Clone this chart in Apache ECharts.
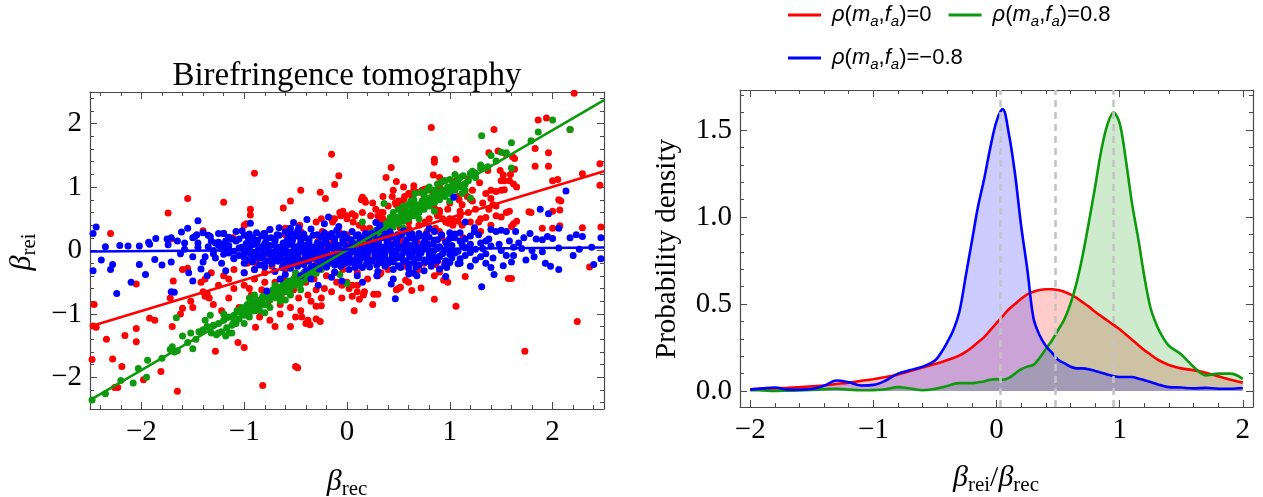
<!DOCTYPE html>
<html><head><meta charset="utf-8">
<script src="https://cdn.jsdelivr.net/npm/echarts@6/dist/echarts.min.js"></script>
<style>html,body{margin:0;padding:0;background:#fff}#c{width:1263px;height:497px}</style>
</head><body><div id="c"></div>
<script>
// ---------------- data ----------------
const titleText = 'Birefringence tomography';
const scatterXMajor = [-2, -1, 0, 1, 2];
const scatterXMinor = [-2.4,-2.2,-1.8,-1.6,-1.4,-1.2,-0.8,-0.6,-0.4,-0.2,0.2,0.4,0.6,0.8,1.2,1.4,1.6,1.8,2.2,2.4];
const scatterYMajor = [-2, -1, 0, 1, 2];
const scatterYMinor = [-2.4,-2.2,-1.8,-1.6,-1.4,-1.2,-0.8,-0.6,-0.4,-0.2,0.2,0.4,0.6,0.8,1.2,1.4,1.6,1.8,2.2,2.4];
const densXMajor = [-2, -1, 0, 1, 2];
const densXMinor = [-1.8,-1.6,-1.4,-1.2,-0.8,-0.6,-0.4,-0.2,0.2,0.4,0.6,0.8,1.2,1.4,1.6,1.8];
const densYMajor = [0, 0.5, 1.0, 1.5];
const densYMinor = [0.1,0.2,0.3,0.4,0.6,0.7,0.8,0.9,1.1,1.2,1.3,1.4,1.6,1.7];

const fitRed   = [[-2.5,-1.2],[2.5,1.25]];
const fitGreen = [[-2.5,-2.36],[2.5,2.37]];
const fitBlue  = [[-2.5,-0.016],[2.5,0.047]];

const blueScatter = [
[-2.47,0.27],[-2.44,0.37],[-2.47,-0.32],[-2.39,-0.15],[-2.35,0.06],[-2.3,-0.3],[-2.28,-0.22],[-2.24,-0.68],[-2.21,0.08],[-2.13,0.07],[-2.1,-0.5],[-2.02,0.07],[-2.02,-0.22],[-1.96,-0.38],[-1.93,0.13],[-1.92,0.1],[-1.87,-0.14],[-1.86,0.19],[-1.8,-0.23],[-1.75,0.18],[-1.74,0.09],[-1.71,0.2],[-1.71,-0.18],[-1.71,-0.65],[-1.68,-0.66],[-1.61,0.29],[-1.58,0.02],[-1.55,0.35],[-1.54,-0.35],[-1.5,0.2],[-1.5,-0.48],[-1.48,0.22],[-1.46,0.25],[-1.45,0.47],[-1.45,0.05],[-1.42,-0.29],[-1.4,0.28],[-1.38,-0.1],[-1.36,-0.4],[-1.35,0.24],[-1.33,0.22],[-1.3,-0.05],[-1.28,0.12],[-1.25,0.27],[-1.25,0.08],[-1.22,-0.2],[-1.2,0.27],[-1.18,-0.32],[-1.15,0.02],[-1.12,0.18],[-1.1,-0.12],[-1.08,0.3],
[-1.02,0.31],[-0.88,0.28],[-0.75,0.33],[-0.6,0.29],[-0.48,0.31],[-0.35,0.34],[-0.22,0.28],[-0.1,0.32],[0.05,0.3],[0.18,0.27],[0.3,0.33],[0.42,0.29],[0.55,0.31],[0.7,0.27],[0.85,0.3],[1.0,0.28],
[-1.15,0.21],[-1.0,0.24],[-0.92,0.2],[-0.83,0.23],[-0.74,0.2],[-0.66,0.24],[-0.57,0.21],[-0.49,0.23],[-0.41,0.2],[-0.33,0.24],[-0.25,0.21],[-0.17,0.22],[-0.08,0.25],[0.0,0.2],[0.09,0.23],[0.17,0.21],[0.26,0.24],[0.35,0.2],[0.44,0.22],[0.53,0.25],[0.62,0.2],[0.71,0.23],[0.8,0.21],[0.92,0.24],[1.05,0.2],[1.2,0.23],
[-1.25,0.13],[-1.08,0.15],[-0.96,0.12],[-0.87,0.16],[-0.79,0.13],[-0.7,0.15],[-0.62,0.12],[-0.53,0.16],[-0.45,0.13],[-0.37,0.15],[-0.29,0.12],[-0.21,0.16],[-0.12,0.13],[-0.04,0.15],[0.05,0.12],[0.13,0.16],[0.22,0.13],[0.3,0.15],[0.39,0.12],[0.48,0.16],[0.57,0.13],[0.66,0.15],[0.75,0.12],[0.85,0.16],[0.96,0.13],[1.1,0.15],[1.3,0.12],
[-1.35,0.06],[-1.15,0.08],[-1.02,0.05],[-0.92,0.09],[-0.83,0.06],[-0.75,0.08],[-0.66,0.05],[-0.58,0.09],[-0.49,0.06],[-0.41,0.08],[-0.33,0.05],[-0.25,0.09],[-0.16,0.06],[-0.08,0.08],[0.01,0.05],[0.09,0.09],[0.18,0.06],[0.26,0.08],[0.35,0.05],[0.44,0.09],[0.52,0.06],[0.61,0.08],[0.7,0.05],[0.79,0.09],[0.9,0.06],[1.02,0.08],[1.18,0.05],[1.4,0.07],
[-1.3,0.0],[-1.1,-0.01],[-0.98,0.01],[-0.88,-0.02],[-0.79,0.01],[-0.7,-0.01],[-0.62,0.02],[-0.53,-0.02],[-0.45,0.01],[-0.37,-0.01],[-0.29,0.02],[-0.2,-0.02],[-0.12,0.01],[-0.03,-0.01],[0.05,0.02],[0.14,-0.02],[0.22,0.01],[0.31,-0.01],[0.39,0.02],[0.48,-0.02],[0.57,0.01],[0.66,-0.01],[0.75,0.02],[0.84,-0.02],[0.95,0.01],[1.08,-0.01],[1.25,0.02],[1.5,0.0],
[-1.2,-0.06],[-1.05,-0.08],[-0.94,-0.05],[-0.84,-0.09],[-0.75,-0.06],[-0.66,-0.08],[-0.58,-0.05],[-0.49,-0.09],[-0.41,-0.06],[-0.33,-0.08],[-0.24,-0.05],[-0.16,-0.09],[-0.08,-0.06],[0.01,-0.08],[0.1,-0.05],[0.18,-0.09],[0.27,-0.06],[0.35,-0.08],[0.44,-0.05],[0.53,-0.09],[0.61,-0.06],[0.7,-0.08],[0.8,-0.05],[0.9,-0.09],[1.0,-0.06],[1.15,-0.08],[1.35,-0.05],
[-1.1,-0.13],[-0.97,-0.15],[-0.87,-0.12],[-0.78,-0.16],[-0.7,-0.13],[-0.61,-0.15],[-0.53,-0.12],[-0.44,-0.16],[-0.36,-0.13],[-0.28,-0.15],[-0.2,-0.12],[-0.11,-0.16],[-0.03,-0.13],[0.06,-0.15],[0.14,-0.12],[0.23,-0.16],[0.31,-0.13],[0.4,-0.15],[0.48,-0.12],[0.57,-0.16],[0.66,-0.13],[0.75,-0.15],[0.85,-0.12],[0.96,-0.16],[1.1,-0.13],[1.25,-0.15],
[-1.0,-0.2],[-0.85,-0.23],[-0.73,-0.21],[-0.62,-0.24],[-0.52,-0.2],[-0.42,-0.22],[-0.32,-0.25],[-0.22,-0.21],[-0.12,-0.23],[-0.02,-0.2],[0.09,-0.24],[0.19,-0.21],[0.29,-0.23],[0.4,-0.2],[0.5,-0.24],[0.6,-0.21],[0.7,-0.23],[0.82,-0.2],[0.95,-0.24],[1.08,-0.21],
[-0.9,-0.3],[-0.7,-0.33],[-0.55,-0.28],[-0.4,-0.32],[-0.27,-0.29],[-0.12,-0.34],[0.02,-0.3],[0.15,-0.27],[0.3,-0.33],[0.45,-0.3],[0.6,-0.28],[0.75,-0.32],[0.9,-0.29],
[-0.95,0.26],[-0.81,0.27],[-0.68,0.25],[-0.54,0.27],[-0.42,0.26],[-0.29,0.25],[-0.15,0.27],[-0.03,0.26],[0.11,0.25],[0.24,0.27],[0.37,0.26],[0.49,0.25],[0.63,0.27],[0.77,0.26],[0.92,0.25],
[-1.05,0.18],[-0.9,0.17],[-0.78,0.19],[-0.7,0.18],[-0.58,0.17],[-0.45,0.19],[-0.37,0.18],[-0.21,0.17],[-0.12,0.19],[-0.04,0.18],[0.04,0.17],[0.13,0.19],[0.21,0.18],[0.31,0.17],[0.4,0.19],[0.49,0.18],[0.58,0.17],[0.67,0.19],[0.76,0.18],[0.88,0.17],[1.0,0.19],[1.15,0.18],
[-1.2,0.1],[-0.98,0.11],[-0.88,0.1],[-0.8,0.11],[-0.71,0.09],[-0.62,0.11],[-0.54,0.1],[-0.45,0.09],[-0.37,0.11],[-0.29,0.1],[-0.2,0.11],[-0.12,0.09],[-0.03,0.11],[0.05,0.1],[0.14,0.09],[0.22,0.11],[0.31,0.1],[0.4,0.09],[0.48,0.11],[0.57,0.1],[0.66,0.09],[0.74,0.11],[0.84,0.1],[0.97,0.11],[1.12,0.09],
[-1.22,0.03],[-1.05,0.04],[-0.95,0.03],[-0.86,0.02],[-0.77,0.04],[-0.68,0.03],[-0.6,0.02],[-0.51,0.04],[-0.43,0.03],[-0.35,0.02],[-0.26,0.04],[-0.18,0.03],[-0.09,0.02],[-0.01,0.04],[0.08,0.03],[0.16,0.02],[0.25,0.04],[0.33,0.03],[0.42,0.02],[0.5,0.04],[0.59,0.03],[0.68,0.02],[0.77,0.04],[0.88,0.03],[1.0,0.02],[1.15,0.04],[1.32,0.03],
[-1.15,-0.04],[-1.0,-0.03],[-0.9,-0.05],[-0.81,-0.04],[-0.72,-0.03],[-0.64,-0.05],[-0.55,-0.04],[-0.47,-0.03],[-0.38,-0.05],[-0.3,-0.04],[-0.22,-0.03],[-0.13,-0.05],[-0.05,-0.04],[0.04,-0.03],[0.12,-0.05],[0.2,-0.04],[0.29,-0.03],[0.37,-0.05],[0.46,-0.04],[0.55,-0.03],[0.63,-0.05],[0.72,-0.04],[0.82,-0.03],[0.93,-0.05],[1.05,-0.04],[1.2,-0.03],
[-1.0,-0.11],[-0.91,-0.1],[-0.82,-0.12],[-0.73,-0.11],[-0.65,-0.1],[-0.56,-0.12],[-0.48,-0.11],[-0.4,-0.1],[-0.31,-0.12],[-0.23,-0.11],[-0.15,-0.1],[-0.06,-0.12],[0.02,-0.11],[0.1,-0.1],[0.19,-0.12],[0.27,-0.11],[0.36,-0.1],[0.44,-0.12],[0.52,-0.11],[0.61,-0.1],[0.7,-0.12],[0.8,-0.11],[0.9,-0.1],[1.02,-0.12],
[-0.92,-0.18],[-0.8,-0.19],[-0.67,-0.17],[-0.57,-0.19],[-0.47,-0.18],[-0.37,-0.17],[-0.26,-0.19],[-0.16,-0.18],[-0.07,-0.17],[0.03,-0.19],[0.12,-0.18],[0.24,-0.17],[0.34,-0.19],[0.45,-0.18],[0.55,-0.17],[0.65,-0.19],[0.76,-0.18],[0.88,-0.17],[1.0,-0.19],
[-0.8,-0.26],[-0.63,-0.27],[-0.48,-0.25],[-0.35,-0.27],[-0.2,-0.26],[-0.06,-0.25],[0.08,-0.27],[0.22,-0.26],[0.37,-0.25],[0.52,-0.27],[0.67,-0.26],[0.82,-0.25],[0.97,-0.27],
[-1.45,0.12],[-1.4,-0.18],[-1.32,0.15],[-1.28,-0.12],[-1.5,-0.1],[-1.58,0.12],[-1.62,-0.05],[-1.65,0.15],[-1.2,0.05],[-1.18,0.15],[1.2,0.1],[1.3,-0.1],[1.38,0.18],[1.42,-0.12],[1.48,0.1],[1.55,-0.08],[1.58,0.15],[1.62,0.05],[1.28,0.25],[1.35,0.15],
[-0.94,0.43],[-0.52,0.44],[-0.39,0.49],[-0.18,0.53],[-0.22,0.42],[-0.08,0.38],[-0.96,0.2],[-1.2,0.27],[-0.8,0.27],[-0.66,0.36],[-0.55,0.35],[-0.47,0.36],[0.28,0.44],[0.32,0.4],[1.04,0.84],[1.15,0.45],[1.24,0.36],[1.24,0.3],[1.4,0.33],[1.45,0.3],[1.5,0.32],[1.55,0.3],[1.05,0.26],[1.1,0.28],[0.8,0.35],[0.6,0.27],
[-0.78,-0.64],[-0.28,-0.55],[0.47,-0.76],[0.45,-0.45],[0.43,-0.53],[0.29,-0.4],[0.6,-0.37],[0.65,-0.36],[0.68,-0.4],[0.96,-0.41],[1.31,-0.57],[1.43,-0.38],[1.52,-0.24],[1.1,-0.2],[1.2,-0.25],[1.35,-0.2],[1.4,-0.27],[-0.45,-0.4],[-0.6,-0.38],[-1.0,-0.35],[-0.15,-0.42],[0.1,-0.4],[0.15,-0.5],[-0.65,-0.45],[-0.35,-0.45],[-0.05,-0.48],
[2.13,0.94],[1.88,0.65],[1.96,0.58],[2.06,0.35],[2.17,0.2],[2.23,0.25],[2.29,0.22],[2.47,0.2],[1.64,0.3],[1.72,0.2],[1.78,0.27],[1.84,0.18],[1.9,0.17],[1.95,0.22],[2.0,0.19],[1.7,0.03],[1.8,0.0],[1.9,-0.02],[2.06,0.04],[2.26,0.02],[2.38,0.05],[1.62,-0.08],[1.74,-0.15],[1.82,-0.1],[1.93,-0.2],[1.98,-0.25],[2.06,-0.3],[2.2,-0.08],[2.4,-0.22],[2.47,-0.13],[1.6,-0.18],[1.67,0.12]
];

const redScatter = [
[-2.46,-0.85],[-2.47,-1.19],[-2.44,-1.21],[-2.48,-1.72],[-2.34,-1.4],[-2.28,-1.71],[-2.26,-2.16],[-2.23,-2.16],[-2.19,-1.83],[-2.16,-1.34],[-2.05,-1.23],[-2.05,-1.44],[-1.98,-2.04],[-1.92,-1.07],[-1.87,-1.1],[-1.81,-1.91],[-2.05,-0.53],[-1.65,-2.22],[-1.7,-1.2],[-1.62,-1.0],[-1.6,-0.91],[-1.72,-0.75],[-1.69,-0.48],[-1.6,-0.3],[-1.55,-0.28],[-1.52,-0.8],[-1.5,-0.9],[-1.4,-0.65],[-1.38,-0.72],[-1.36,-0.68],[-1.34,-0.75],[-1.42,-0.5],[-1.38,-0.45],[-1.28,-1.59],[-2.3,0.27],[-1.74,0.59],[-1.55,0.82],[-1.4,0.31],[-1.71,0.18],
[-1.2,0.76],[-0.9,1.22],[-0.94,0.65],[-0.94,0.56],[-1.0,0.4],[-0.98,0.42],[-1.11,0.2],[-0.62,0.67],[-0.55,0.78],[-0.45,0.95],[-0.26,0.92],[-0.21,0.82],[-0.15,1.52],[-0.08,1.18],[-0.12,1.04],[-0.07,0.6],[-0.04,0.62],[-0.06,0.55],[-0.25,0.5],[-0.12,0.5],[-0.14,0.45],[0.15,0.84],[0.14,0.8],[0.0,0.5],[0.05,0.58],[0.08,0.55],[-0.75,0.33],[-0.6,0.35],[-0.48,0.28],[-0.58,0.34],[-0.46,0.4],
[0.82,1.94],[1.43,1.91],[0.85,1.44],[0.85,1.39],[1.06,1.44],[0.43,1.31],[0.38,1.15],[0.48,1.09],[1.38,1.54],[1.47,1.57],[1.54,1.53],[1.49,1.26],[1.52,1.19],[1.37,1.26],[1.5,1.1],[1.53,1.1],[1.58,1.1],[1.4,0.95],[1.45,0.93],[1.5,0.95],[1.53,0.96],[1.29,1.07],[1.18,1.13],[0.84,1.19],[0.9,1.15],[0.6,0.9],[0.65,0.95],[0.7,0.92],[0.76,0.97],[0.62,0.88],[0.95,1.1],[1.2,0.81],[1.22,0.78],[1.4,0.82],[1.42,0.72],[1.38,0.65],[1.55,0.6],[1.58,0.62],[1.3,0.5],[1.35,0.52],[1.45,0.55],[1.5,0.53],[1.09,0.8],[1.12,0.72],[1.1,0.62],[1.04,0.47],[1.08,0.46],[0.96,0.45],[0.99,0.43],[0.17,0.8],[0.18,0.76],[0.44,0.85],[0.5,0.78],[0.55,0.8],[0.48,0.72],[0.53,0.7],[0.3,0.55],[0.33,0.6],[0.35,0.5],[0.32,0.48],[0.86,0.65],[0.9,0.63],[0.9,0.6],
[2.21,2.48],[1.94,2.09],[1.86,2.06],[2.17,1.91],[1.83,1.61],[1.96,1.54],[1.61,1.48],[1.63,1.45],[2.46,1.37],[1.83,1.33],[1.96,1.33],[2.29,1.21],[1.59,1.2],[1.63,1.28],[1.65,1.0],[1.62,1.05],[2.0,1.1],[2.05,1.12],[2.46,1.03],[2.06,0.8],[2.08,0.78],[1.77,0.61],[1.79,0.6],[2.0,0.62],[2.07,0.64],[1.6,0.38],[1.62,0.42],[1.65,0.46],[2.07,0.39],[1.9,0.35],[2.0,0.35],[2.29,0.36],[2.47,0.37],[1.6,-0.44],[2.36,-0.26],[2.24,-1.12],[1.73,-1.59],
[-0.82,-2.13],[-0.5,-1.83],[-0.48,-1.85],[-1.06,-1.45],[-1.0,-1.53],[-0.44,-1.05],[-0.38,-1.1],[-0.3,-1.08],[-0.36,-1.17],[-0.26,-1.12],[-0.3,-0.88],[-0.25,-0.87],[0.07,-0.95],[0.1,-0.65],[0.16,-0.7],[0.12,-0.77],[0.05,-0.72],[0.0,-0.5],[0.05,-0.55],[0.02,-0.6],[-0.05,-0.55],[-0.89,-1.21],
[0.25,-0.85],[0.26,-0.69],[0.3,-0.69],[0.63,-0.63],[0.72,-0.59],[0.85,-0.77],[1.06,-0.88],[0.5,-0.6],[0.48,-0.62],[0.52,-0.58],[0.57,-0.47],[0.3,-0.4],[0.32,-0.37],[0.33,-0.35],[0.17,-0.65],[0.85,-0.4],[0.9,-0.34],[0.94,-0.47],[0.98,-0.5],[1.15,-0.41],[1.57,-0.44],[0.65,-0.35],[0.7,-0.3],[0.86,-0.22],[0.95,-0.2],[0.88,-0.15],
[-1.2,-0.4],[-1.15,-0.75],[-1.1,-0.3],[-1.05,-0.9],[-1.0,-0.55],[-0.97,-0.2],[-0.93,-0.7],[-0.9,-0.45],[-0.86,-0.1],[-0.83,-0.62],[-0.8,-0.35],[-0.77,-0.85],[-0.73,-0.25],[-0.7,-0.5],[-0.67,-0.05],[-0.64,-0.7],[-0.6,-0.3],[-0.57,-0.55],[-0.54,0.1],[-0.5,-0.4],[-0.47,-0.75],[-0.44,-0.15],[-0.4,-0.5],[-0.37,0.05],[-0.34,-0.3],[-0.3,-0.62],[-0.27,-0.1],[-0.24,0.3],[-0.2,-0.4],[-0.17,-0.2],[-0.14,0.15],[-0.1,-0.5],[-0.07,0.0],[-0.04,-0.3],[0.0,0.25],[0.03,-0.15],[0.06,0.45],[0.1,-0.35],[0.13,0.1],[0.16,0.35],[0.2,-0.1],[0.23,0.55],[0.26,0.2],[0.3,-0.2],[0.33,0.4],[0.36,0.05],[0.4,0.7],[0.43,0.25],[0.46,-0.05],[0.5,0.5],[0.53,0.15],[0.56,0.85],[0.6,0.35],[0.63,-0.1],[0.66,0.6],[0.7,0.25],[0.73,0.95],[0.76,0.45],[0.8,0.1],[0.83,0.7],[0.86,0.35],[0.9,1.0],[0.93,0.5],[0.96,0.15],[1.0,0.75],[1.03,0.4],[1.06,1.1],[1.1,0.55],[1.13,0.2],[1.17,0.85],[1.2,0.45],[1.25,0.65],[1.3,0.3],[1.35,0.9],
[-0.6,-0.15],[-0.5,-0.2],[-0.4,-0.1],[-0.3,-0.2],[-0.2,0.05],[-0.1,-0.15],[0.1,0.1],[0.2,0.2],[0.3,0.05],[0.4,0.3],[0.5,0.2],[0.6,0.45],[0.7,0.4],[0.8,0.5],[0.9,0.3],[1.0,0.5],[-0.8,-0.5],[-0.9,-0.3],[-1.0,-0.35],[0.55,0.6],[0.65,0.7],[0.75,0.75],[0.85,0.85],[0.95,0.9],[0.45,0.55],[0.35,0.6],[-0.65,-0.85],[-0.55,-0.9],[-0.45,-0.95],[-0.35,-0.8],[-0.25,-0.75],[-0.6,0.25],[-0.45,0.3],[-0.3,0.45],[-0.15,0.5],[0.0,0.55],[0.15,0.6],[0.25,0.75],[0.35,0.85],[0.45,0.95],[0.55,1.0],[0.65,1.02],[0.75,0.85],[-0.75,-1.1],[-0.7,-1.2],[-0.55,-1.2],[-0.4,-1.15],[-0.85,-1.05],[-0.9,-0.95],
[-0.95,-0.6],[-0.88,-0.2],[-0.78,-0.05],[-0.72,-0.7],[-0.62,-0.45],[-0.58,-0.1],[-0.52,-0.62],[-0.48,0.05],[-0.42,-0.35],[-0.38,-0.7],[-0.32,-0.45],[-0.28,0.15],[-0.22,-0.6],[-0.18,0.25],[-0.12,-0.35],[-0.08,0.3],[-0.02,-0.2],[0.02,0.1],[0.08,-0.25],[0.12,0.4],[0.18,0.0],[0.22,0.35],[0.28,0.65],[0.32,-0.05],[0.38,0.45],[0.42,0.12],[0.47,0.75],[0.52,0.35],[0.58,0.05],[0.62,0.55],[0.68,0.15],[0.72,0.65],[0.78,0.3],[0.82,0.95],[0.88,0.55],[0.92,0.2],[0.98,0.65],[1.02,0.25],[1.08,0.85],[1.12,0.4],[1.18,0.6],[1.22,0.95],[1.28,0.45],[1.32,0.75],[1.4,0.4],[1.45,0.7],[-1.1,-0.6],[-1.15,-0.45],[-1.25,-0.55],[-1.3,-0.85],[-1.22,-0.95],[-1.32,-0.35],[-1.18,-1.05],[-0.65,-1.0],[-0.5,-1.05],[0.4,-0.3],[0.55,-0.25],[0.6,-0.5],[0.75,-0.2],[0.2,-0.45],[0.1,-0.55],[-0.15,-0.65],[-0.05,-0.75]
];

const greenScatter = [
[-2.48,-2.36],[-2.35,-2.26],[-2.2,-2.05],[-2.08,-2.09],[-2.03,-1.86],[-1.95,-2.0],[-1.94,-1.73],[-1.8,-1.7],[-1.72,-1.56],[-1.7,-1.52],[-1.68,-1.6],[-1.66,-1.06],[-1.65,-1.58],[-1.6,-1.35],[-1.55,-1.45],[-1.52,-1.3],[-1.5,-1.55],[-1.47,-1.4],[-1.44,-1.28],[-1.4,-1.25],[-1.38,-1.1],[-1.36,-1.2],[-1.33,-1.02],[-1.32,-1.3],
[-1.3,-1.18],[-1.27,-1.33],[-1.25,-1.15],[-1.22,-1.28],[-1.2,-1.1],[-1.17,-1.22],[-1.15,-1.05],[-1.12,-1.18],[-1.1,-1.12],[-1.07,-0.95],[-1.05,-1.08],[-1.02,-0.9],[-1.0,-1.02],[-0.97,-0.85],[-0.95,-0.98],[-0.92,-0.8],[-0.9,-0.95],[-0.87,-0.78],[-0.85,-0.88],[-0.82,-0.72],[-0.8,-0.85],[-0.77,-0.68],[-0.75,-0.78],[-0.72,-0.62],[-0.7,-0.74],[-0.67,-0.58],[-0.65,-0.7],[-0.62,-0.52],[-0.6,-0.65],[-0.57,-0.48],[-0.55,-0.6],[-0.52,-0.45],[-0.5,-0.55],[-0.47,-0.4],[-0.45,-0.52],[-0.42,-0.36],[-0.4,-0.46],[-0.37,-0.3],[-0.35,-0.4],[-0.32,-0.26],[-0.3,-0.36],[-0.27,-0.22],[-0.25,-0.3],[-0.22,-0.17],[-0.2,-0.26],[-0.17,-0.12],[-0.15,-0.2],[-0.12,-0.08],[-0.1,-0.16],[-0.07,-0.04],[-0.05,-0.1],[-0.02,0.02],[0.0,-0.05],[0.03,0.06],[0.05,-0.02],[0.08,0.12],[0.1,0.03],[0.13,0.18],[0.15,0.08],[0.18,0.22],[0.2,0.12],[0.23,0.28],[0.25,0.17],[0.28,0.32],[0.3,0.22],[0.33,0.38],[0.35,0.27],[0.38,0.42],[0.4,0.32],[0.43,0.48],[0.45,0.37],[0.48,0.52],[0.5,0.42],[0.53,0.58],[0.55,0.46],[0.58,0.62],[0.6,0.5],[0.63,0.68],[0.65,0.55],[0.68,0.72],[0.7,0.6],[0.73,0.78],[0.75,0.65],[0.78,0.82],[0.8,0.7],[0.83,0.86],[0.85,0.75],[0.88,0.92],[0.9,0.8],[0.93,0.96],[0.95,0.85],[0.98,1.0],[1.0,0.9],[1.03,1.06],[1.05,0.95],[1.08,1.12],[1.1,1.0],[1.13,1.18],[1.15,1.05],[1.2,1.22],[1.25,1.15],[1.3,1.3],
[-0.6,-0.55],[-0.5,-0.45],[-0.4,-0.38],[-0.3,-0.28],[0.3,0.3],[0.4,0.4],[0.5,0.5],[0.6,0.58],[0.7,0.68],[0.8,0.78],[0.9,0.88],[0.65,0.8],[0.75,0.88],[0.85,0.95],[0.95,1.1],[0.55,0.7],[-0.85,-0.95],[-0.95,-1.05],[-1.05,-0.95],[-0.75,-0.9],[-0.65,-0.8],[-0.55,-0.7],[-1.15,-1.3],[-1.25,-1.3],[0.0,-0.52],[-0.07,-0.38],[0.36,0.74],[0.15,0.45],[1.2,0.83],
[-1.1,-1.02],[-1.08,-1.15],[-1.03,-0.98],[-0.98,-0.92],[-0.93,-0.9],[-0.88,-0.85],[-0.83,-0.8],[-0.78,-0.74],[-0.73,-0.7],[-0.68,-0.65],[-0.63,-0.6],[-0.58,-0.56],[-0.53,-0.5],[-0.48,-0.47],[-0.43,-0.42],[-0.38,-0.36],[-0.33,-0.32],[-0.28,-0.27],[-0.23,-0.22],[-0.18,-0.17],[-0.13,-0.13],[-0.08,-0.07],[0.08,0.07],[0.13,0.13],[0.18,0.17],[0.23,0.22],[0.28,0.26],[0.33,0.31],[0.38,0.36],[0.43,0.41],[0.48,0.46],[0.53,0.51],[0.58,0.56],[0.63,0.6],[0.68,0.66],[0.73,0.7],[0.78,0.75],[0.83,0.8],[0.88,0.85],[0.93,0.9],[0.98,0.95],[1.03,0.98],[1.08,1.04],
[-0.9,-0.7],[-0.8,-0.98],[-0.7,-0.55],[-0.6,-0.78],[-0.5,-0.35],[-0.45,-0.62],[0.45,0.6],[0.55,0.35],[0.62,0.78],[0.7,0.5],[0.78,0.95],[0.85,0.62],[0.92,1.08],[1.0,0.78],[1.05,1.2],[1.12,0.9],[0.66,0.9],[0.72,0.92],[0.8,1.0],[0.88,1.05],[1.0,1.12],[0.6,0.72],[0.5,0.65],[0.42,0.52],[-1.2,-1.0],[-1.0,-1.15],[-0.95,-0.75],[-1.12,-1.3],[-1.18,-1.35],
[1.31,1.81],[1.55,1.54],[1.45,1.41],[1.3,1.35],[1.35,1.3],[1.37,1.32],[1.2,1.2],[1.22,1.25],[1.25,1.22],[1.18,1.1],[1.6,1.7],[1.6,1.3],[1.5,1.55],[1.79,1.73],[1.86,1.87],[2.0,2.06],[2.17,1.91],[1.4,1.5],[1.1,1.15],[1.15,0.95]
];

const densX = [-2.0,-1.9,-1.8,-1.7,-1.6,-1.5,-1.4,-1.3,-1.2,-1.1,-1.0,-0.9,-0.8,-0.7,-0.6,-0.5,-0.45,-0.4,-0.35,-0.3,-0.25,-0.2,-0.15,-0.1,-0.05,0.0,0.05,0.1,0.15,0.2,0.25,0.3,0.35,0.4,0.45,0.5,0.55,0.6,0.65,0.7,0.75,0.8,0.85,0.9,0.95,1.0,1.05,1.1,1.15,1.2,1.25,1.3,1.35,1.4,1.5,1.6,1.7,1.8,1.9,2.0];
const densRed = [0.01,0.012,0.015,0.018,0.022,0.027,0.032,0.04,0.048,0.058,0.068,0.08,0.095,0.115,0.135,0.155,0.165,0.178,0.19,0.205,0.225,0.25,0.28,0.31,0.35,0.39,0.43,0.47,0.5,0.53,0.555,0.57,0.58,0.585,0.585,0.58,0.57,0.555,0.535,0.51,0.485,0.455,0.43,0.405,0.38,0.355,0.325,0.295,0.265,0.235,0.21,0.185,0.165,0.15,0.13,0.12,0.105,0.085,0.065,0.048];
const densGreen = [0.005,0.003,0.0,0.002,0.003,0.006,0.01,0.013,0.008,0.004,0.005,0.01,0.022,0.014,0.004,0.012,0.02,0.028,0.04,0.045,0.045,0.045,0.05,0.055,0.065,0.068,0.065,0.075,0.1,0.125,0.14,0.15,0.19,0.24,0.29,0.35,0.41,0.5,0.62,0.78,0.97,1.17,1.38,1.53,1.6,1.54,1.33,1.08,0.88,0.66,0.48,0.38,0.31,0.26,0.21,0.14,0.09,0.1,0.1,0.07];
const densBlue = [0.008,0.015,0.02,0.008,0.008,0.012,0.03,0.06,0.05,0.032,0.035,0.06,0.1,0.12,0.14,0.175,0.22,0.28,0.35,0.46,0.66,0.86,1.06,1.22,1.4,1.55,1.62,1.48,1.25,0.95,0.7,0.42,0.32,0.26,0.22,0.18,0.16,0.14,0.13,0.13,0.125,0.115,0.105,0.095,0.085,0.08,0.08,0.08,0.072,0.062,0.052,0.04,0.03,0.022,0.02,0.015,0.018,0.013,0.013,0.017];
const dashX = [0.025, 0.48, 0.95];
const legendNames = ['rho0', 'rho08', 'rhom08'];

// ---------------- chart ----------------
const RED = '#ff0000', GREEN = '#0c9a0c', BLUE = '#0000ff', FRAME = '#4a4a4a';
const SERIF = 'Liberation Serif', SANS = 'Liberation Sans';
const minus = v => (v < 0 ? '\u2212' + Math.abs(v) : String(v));
const pair = (xs, ys) => xs.map((x, i) => [x, ys[i]]);

function ax(grid, pos, min, max, ticks, len, labels, fmt, line, isY) {
  return {
    type: 'value', gridIndex: grid, position: pos, min: min, max: max,
    axisLine: { show: line, onZero: false, lineStyle: { color: FRAME, width: 1.2 } },
    axisTick: { show: true, inside: true, length: len, customValues: ticks, lineStyle: { color: FRAME, width: 1 } },
    axisLabel: labels ? { show: true, customValues: ticks, formatter: fmt, margin: isY ? 8 : 9,
      fontFamily: SERIF, fontSize: 29, color: '#000' } : { show: false },
    splitLine: { show: false }, minorTick: { show: false }
  };
}
const xAxes = [
  ax(0, 'bottom', -2.5, 2.5, scatterXMajor, 7, true, minus, true),
  ax(0, 'top', -2.5, 2.5, scatterXMajor, 7, false, null, true),
  ax(1, 'bottom', -2.5, 2.5, scatterXMinor, 4, false, null, false),
  ax(1, 'top', -2.5, 2.5, scatterXMinor, 4, false, null, false),
  ax(2, 'bottom', -2.083, 2.083, densXMajor, 7, true, minus, true),
  ax(2, 'top', -2.083, 2.083, densXMajor, 7, false, null, true),
  ax(3, 'bottom', -2.083, 2.083, densXMinor, 4, false, null, false),
  ax(3, 'top', -2.083, 2.083, densXMinor, 4, false, null, false)
];
const yAxes = [
  ax(0, 'left', -2.5, 2.5, scatterYMajor, 7, true, minus, true, true),
  ax(0, 'right', -2.5, 2.5, scatterYMajor, 7, false, null, true, true),
  ax(1, 'left', -2.5, 2.5, scatterYMinor, 4, false, null, false, true),
  ax(1, 'right', -2.5, 2.5, scatterYMinor, 4, false, null, false, true),
  ax(2, 'left', -0.092, 1.73, densYMajor, 7, true, v => v.toFixed(1), true, true),
  ax(2, 'right', -0.092, 1.73, densYMajor, 7, false, null, true, true),
  ax(3, 'left', -0.092, 1.73, densYMinor, 4, false, null, false, true),
  ax(3, 'right', -0.092, 1.73, densYMinor, 4, false, null, false, true)
];

const sc = (name, data, color) => ({ name, type: 'scatter', xAxisIndex: 0, yAxisIndex: 0, data,
  symbolSize: 7, itemStyle: { color, opacity: 1 }, silent: true, animation: false, large: false });
const fit = (name, data, color) => ({ name, type: 'line', xAxisIndex: 0, yAxisIndex: 0, data,
  symbol: 'none', lineStyle: { color, width: 2.6 }, itemStyle: { color }, silent: true, animation: false, z: 5 });
const dens = (name, ys, color, extra) => Object.assign({ name, type: 'line', xAxisIndex: 4, yAxisIndex: 4,
  data: pair(densX, ys), symbol: 'none', smooth: 0.35, lineStyle: { color, width: 2.6 },
  itemStyle: { color }, areaStyle: { color, opacity: 0.2, origin: 0 }, silent: true, animation: false, z: 4 }, extra || {});

const legendText = { rho0: '{i|ρ}({i|m}{s|a},{i|f}{s|a})=0', rho08: '{i|ρ}({i|m}{s|a},{i|f}{s|a})=0.8', rhom08: '{i|ρ}({i|m}{s|a},{i|f}{s|a})=\u22120.8' };
const legRich = {
  i: { fontStyle: 'italic', fontFamily: SANS, fontSize: 22, lineHeight: 28 },
  s: { fontStyle: 'italic', fontFamily: SANS, fontSize: 15, lineHeight: 8, verticalAlign: 'bottom' }
};
const legBase = { orient: 'horizontal', padding: 0, icon: 'rect', itemWidth: 33, itemHeight: 3, itemGap: 17,
  selectedMode: false, formatter: n => legendText[n],
  textStyle: { fontFamily: SANS, fontSize: 22, color: '#000', lineHeight: 28, padding: [0, 0, 0, 6], rich: legRich } };

const axisRich = {
  b: { fontFamily: SERIF, fontStyle: 'italic', fontSize: 30, lineHeight: 36, fill: '#000' },
  s: { fontFamily: SERIF, fontSize: 21, lineHeight: 12, verticalAlign: 'bottom', fill: '#000' },
  n: { fontFamily: SERIF, fontSize: 30, lineHeight: 36, fill: '#000' }
};

const option = {
  backgroundColor: '#fff',
  animation: false,
  grid: [
    { left: 90, top: 92, width: 514, height: 317 },
    { left: 90, top: 92, width: 514, height: 317 },
    { left: 740, top: 90, width: 513, height: 317 },
    { left: 740, top: 90, width: 513, height: 317 }
  ],
  xAxis: xAxes, yAxis: yAxes,
  legend: [
    Object.assign({}, legBase, { data: [legendNames[0], legendNames[1]], left: 788, top: 1 }),
    Object.assign({}, legBase, { data: [legendNames[2]], left: 788, top: 44 })
  ],
  graphic: [
    { type: 'text', x: 347, y: 76, silent: true, style: { text: titleText, fontFamily: SERIF, fontSize: 33, fill: '#000', textAlign: 'center', textVerticalAlign: 'middle' } },
    { type: 'text', x: 347, y: 482, silent: true, style: { text: '{b|β}{s|rec}', rich: axisRich, textAlign: 'center', textVerticalAlign: 'middle' } },
    { type: 'text', x: 22, y: 252, rotation: Math.PI / 2, silent: true, style: { text: '{b|β}{s|rei}', rich: axisRich, textAlign: 'center', textVerticalAlign: 'middle' } },
    { type: 'text', x: 996, y: 478, silent: true, style: { text: '{b|β}{s|rei}{n|/}{b|β}{s|rec}', rich: axisRich, textAlign: 'center', textVerticalAlign: 'middle' } },
    { type: 'text', x: 667, y: 249, rotation: Math.PI / 2, silent: true, style: { text: 'Probability density', fontFamily: SERIF, fontSize: 29, fill: '#000', textAlign: 'center', textVerticalAlign: 'middle' } }
  ],
  series: [
    sc('redPts', redScatter, RED),
    sc('greenPts', greenScatter, GREEN),
    sc('bluePts', blueScatter, BLUE),
    fit('redFit', fitRed, RED),
    fit('greenFit', fitGreen, GREEN),
    fit('blueFit', fitBlue, BLUE),
    dens('rho0', densRed, RED, { markLine: { symbol: 'none', silent: true, label: { show: false },
      lineStyle: { color: '#c4c4c4', width: 2.5, type: [7, 5] }, data: dashX.map(v => ({ xAxis: v })) } }),
    dens('rho08', densGreen, GREEN),
    dens('rhom08', densBlue, BLUE)
  ]
};
const chart = echarts.init(document.getElementById('c'), null, { renderer: 'canvas' });
chart.setOption(option);
</script></body></html>
